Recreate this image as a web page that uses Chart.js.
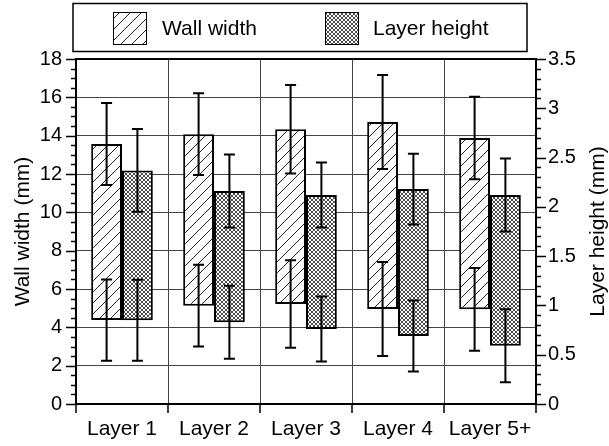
<!DOCTYPE html>
<html lang="en">
<head>
<meta charset="UTF-8">
<title>Wall width and layer height per layer</title>
<script src="https://cdn.jsdelivr.net/npm/chart.js"></script>
<style>
    body { margin: 0; background: #fff; }
    .chart-container { position: relative; width: 609px; height: 446px; }
</style>
</head>
<body>
<div class="chart-container"><canvas id="layerChart"></canvas></div>
<script>
const categories = ['Layer 1', 'Layer 2', 'Layer 3', 'Layer 4', 'Layer 5+'];

// wall width box ends (mm) and the error at each end
const wallLow = [4.38, 5.13, 5.22, 4.96, 4.94];
const wallHigh = [13.56, 14.08, 14.33, 14.71, 13.88];
const wallLowErr = [2.12, 2.13, 2.28, 2.45, 2.16];
const wallHighErr = [2.14, 2.13, 2.31, 2.45, 2.15];

// layer height box ends (mm) and the error at each end
const heightLow = [0.85, 0.83, 0.76, 0.69, 0.59];
const heightHigh = [2.37, 2.16, 2.12, 2.18, 2.12];
const heightLowErr = [0.41, 0.37, 0.33, 0.36, 0.37];
const heightHighErr = [0.42, 0.37, 0.33, 0.36, 0.37];

const FONT = "'Liberation Sans', Arial, sans-serif";

function hatchPattern() {
    const c = document.createElement('canvas');
    c.width = 11; c.height = 11;
    const g = c.getContext('2d');
    g.fillStyle = '#fff';
    g.fillRect(0, 0, 11, 11);
    g.strokeStyle = '#222';
    g.lineWidth = 1;
    g.beginPath();
    g.moveTo(-1, 12); g.lineTo(12, -1);
    g.moveTo(-1, 1); g.lineTo(1, -1);
    g.moveTo(10, 12); g.lineTo(12, 10);
    g.stroke();
    return g.createPattern(c, 'repeat');
}

function crossPattern() {
    const c = document.createElement('canvas');
    c.width = 4; c.height = 4;
    const g = c.getContext('2d');
    g.fillStyle = '#fff';
    g.fillRect(0, 0, 4, 4);
    g.fillStyle = '#4a4a4a';
    for (let i = 0; i < 4; i++) {
        g.fillRect(i, i, 1, 1);
        g.fillRect(3 - i, i, 1, 1);
    }
    return g.createPattern(c, 'repeat');
}

// error bars, frame, minor ticks, legend and axis titles
const extras = {
    id: 'extras',
    afterDatasetsDraw(chart) {
        const ctx = chart.ctx;
        ctx.save();
        ctx.strokeStyle = '#000';
        ctx.lineWidth = 2;
        chart.data.datasets.forEach((ds, di) => {
            const meta = chart.getDatasetMeta(di);
            const scale = chart.scales[ds.yAxisID];
            meta.data.forEach((bar, i) => {
                const ends = [[ds.data[i][0], ds.errLow[i]], [ds.data[i][1], ds.errHigh[i]]];
                ends.forEach(([v, e]) => {
                    const y1 = scale.getPixelForValue(v - e);
                    const y2 = scale.getPixelForValue(v + e);
                    ctx.beginPath();
                    ctx.moveTo(bar.x, y1); ctx.lineTo(bar.x, y2);
                    ctx.moveTo(bar.x - 5.5, y1); ctx.lineTo(bar.x + 5.5, y1);
                    ctx.moveTo(bar.x - 5.5, y2); ctx.lineTo(bar.x + 5.5, y2);
                    ctx.stroke();
                });
            });
        });
        ctx.restore();
    },
    afterDraw(chart) {
        const ctx = chart.ctx;
        const a = chart.chartArea;
        const { x, y, y1 } = chart.scales;
        ctx.save();
        ctx.strokeStyle = '#000';

        // frame
        ctx.lineWidth = 2;
        ctx.strokeRect(a.left, a.top, a.right - a.left, a.bottom - a.top);

        // left ticks
        ctx.lineWidth = 1.5;
        ctx.beginPath();
        for (let i = 0; i <= 36; i++) {
            const py = Math.round(y.getPixelForValue(i * 0.5)) + 0.5;
            const len = i % 4 === 0 ? 10 : 5;
            ctx.moveTo(a.left - len, py); ctx.lineTo(a.left, py);
        }
        // right ticks
        for (let i = 0; i <= 35; i++) {
            const py = Math.round(y1.getPixelForValue(i * 0.1)) + 0.5;
            const len = i % 5 === 0 ? 10 : 5;
            ctx.moveTo(a.right, py); ctx.lineTo(a.right + len, py);
        }
        // category boundary ticks
        for (let i = 0; i <= categories.length; i++) {
            const px = x.getPixelForValue(i - 0.5);
            ctx.moveTo(px, a.bottom); ctx.lineTo(px, a.bottom + 9);
        }
        ctx.stroke();

        // legend
        ctx.lineWidth = 1.5;
        ctx.strokeRect(73, 3.5, 454, 48);
        const items = [[113, 162], [325, 373]];
        chart.data.datasets.forEach((ds, di) => {
            const [sx, tx] = items[di];
            ctx.fillStyle = ds.backgroundColor;
            ctx.fillRect(sx, 12, 34, 33);
            ctx.lineWidth = 1;
            ctx.strokeRect(sx + 0.5, 12.5, 33, 32);
            ctx.fillStyle = '#000';
            ctx.font = '21px ' + FONT;
            ctx.textAlign = 'left';
            ctx.textBaseline = 'middle';
            ctx.fillText(ds.label, tx, 29);
        });

        // axis titles
        ctx.font = '21px ' + FONT;
        ctx.textAlign = 'center';
        ctx.textBaseline = 'middle';
        const mid = (a.top + a.bottom) / 2;
        [[23, 'Wall width (mm)'], [598, 'Layer height (mm)']].forEach(([tx, text]) => {
            ctx.save();
            ctx.translate(tx, mid);
            ctx.rotate(-Math.PI / 2);
            ctx.fillText(text, 0, 0);
            ctx.restore();
        });
        ctx.restore();
    }
};

const ctx = document.getElementById('layerChart').getContext('2d');
new Chart(ctx, {
    type: 'bar',
    data: {
        labels: categories,
        datasets: [
            {
                label: 'Wall width',
                data: wallLow.map((v, i) => [v, wallHigh[i]]),
                errLow: wallLowErr,
                errHigh: wallHighErr,
                yAxisID: 'y',
                backgroundColor: hatchPattern(),
                borderColor: '#000',
                borderWidth: 2,
                borderSkipped: false
            },
            {
                label: 'Layer height',
                data: heightLow.map((v, i) => [v, heightHigh[i]]),
                errLow: heightLowErr,
                errHigh: heightHighErr,
                yAxisID: 'y1',
                backgroundColor: crossPattern(),
                borderColor: '#000',
                borderWidth: 2,
                borderSkipped: false
            }
        ]
    },
    options: {
        responsive: true,
        maintainAspectRatio: false,
        animation: false,
        layout: { padding: { top: 59, left: 0, right: 0, bottom: 0 } },
        categoryPercentage: 0.67,
        barPercentage: 1,
        plugins: {
            legend: { display: false },
            tooltip: { enabled: false }
        },
        scales: {
            x: {
                grid: { color: '#444', drawTicks: false, offset: true },
                border: { display: false },
                ticks: { color: '#000', font: { family: FONT, size: 21 }, padding: 13 },
                afterFit: s => { s.height = 42; }
            },
            y: {
                position: 'left',
                min: 0,
                max: 18,
                grid: { color: '#444', drawTicks: false },
                border: { display: false },
                ticks: { stepSize: 2, color: '#000', font: { family: FONT, size: 20 }, padding: 14 },
                afterFit: s => { s.width = 76; }
            },
            y1: {
                position: 'right',
                min: 0,
                max: 3.5,
                grid: { drawOnChartArea: false, drawTicks: false },
                border: { display: false },
                ticks: {
                    stepSize: 0.5,
                    color: '#000',
                    font: { family: FONT, size: 20 },
                    padding: 12,
                    callback: v => String(v)
                },
                afterFit: s => { s.width = 73; }
            }
        }
    },
    plugins: [extras]
});
</script>
</body>
</html>
